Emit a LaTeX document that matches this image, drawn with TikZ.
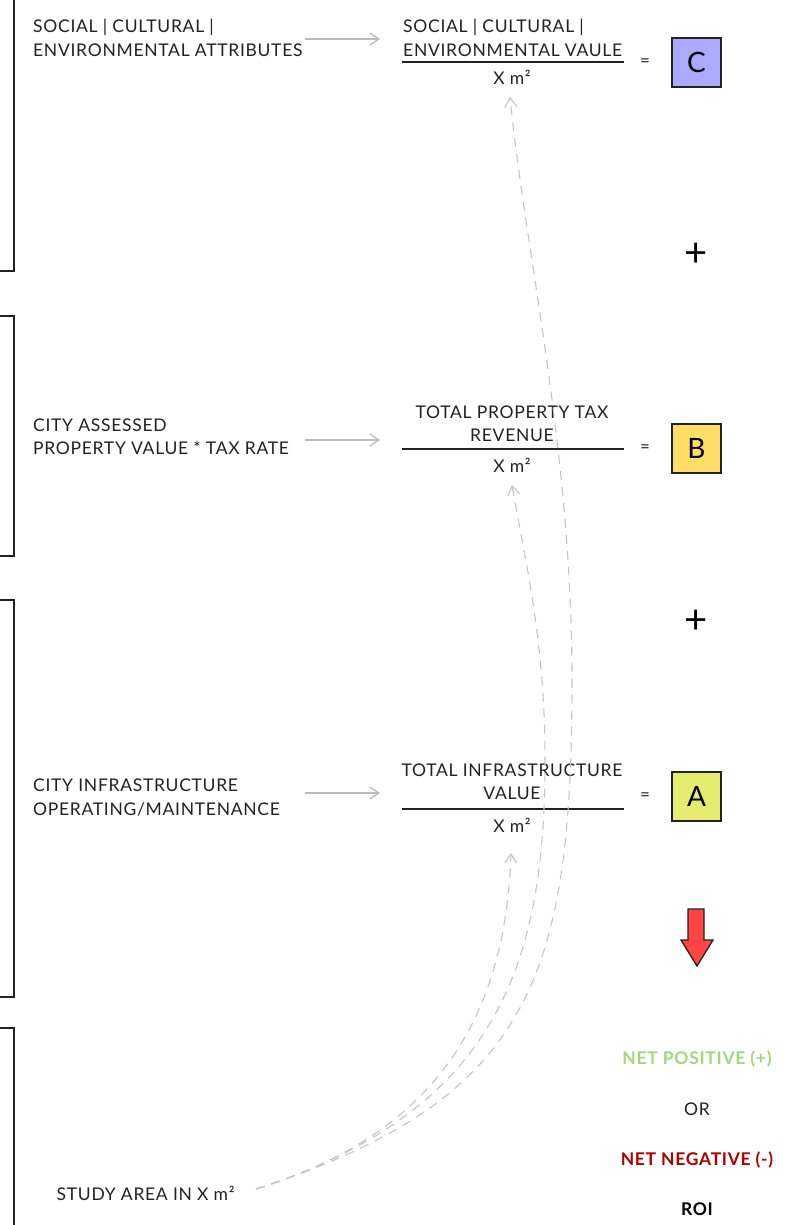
\documentclass[tikz,border=0pt]{standalone}
\usepackage{fontspec}
\setmainfont{Lato}[LetterSpace=4]
\usetikzlibrary{arrows.meta}
\definecolor{ink}{HTML}{222222}
\definecolor{flowgray}{HTML}{BBBBBB}
\definecolor{dashgray}{HTML}{C4C4C4}
\definecolor{boxC}{HTML}{AAAAFF}
\definecolor{boxB}{HTML}{FFDD66}
\definecolor{boxA}{HTML}{E6EC70}
\definecolor{redarrow}{HTML}{FF4444}
\definecolor{posgreen}{HTML}{A6D67A}
\definecolor{negred}{HTML}{B00000}
\begin{document}
\begin{tikzpicture}[x=1pt,y=-1pt,
  txt/.style={font=\fontsize{17.5}{23.4}\selectfont, inner sep=0pt, text=ink},
  boldtxt/.style={font=\fontsize{17.5}{23.4}\selectfont\bfseries, inner sep=0pt},
  bracketline/.style={line width=2pt, draw=ink},
  barline/.style={line width=2pt, draw=ink},
  chev/.style={-{Straight Barb[length=9pt,width=12pt]}},
  flow/.style={chev, draw=flowgray, line width=1.3pt},
  dashflow/.style={chev, draw=dashgray, line width=1.1pt, dash pattern=on 9pt off 7pt},
  letterbox/.style={draw=ink, line width=1.8pt, minimum size=49pt, inner sep=0pt,
    font=\fontsize{28}{30}\selectfont, text=black},
  eqsign/.style={font=\fontsize{17}{18}\selectfont, inner sep=0pt, text=ink},
  plussign/.style={font=\fontsize{40}{42}\selectfont, inner sep=0pt, text=black}
]
\useasboundingbox (0,0) rectangle (784,1225);

% brackets
\draw[bracketline] (14,-5) -- (14,271) -- (-2,271);
\draw[bracketline] (-2,316) -- (14,316) -- (14,556) -- (-2,556);
\draw[bracketline] (-2,600) -- (14,600) -- (14,997) -- (-2,997);
\draw[bracketline] (-2,1028) -- (14,1028) -- (14,1232);

% left texts
\node[txt, anchor=west, align=left] (lt1) at (33,38) {SOCIAL | CULTURAL |\\ENVIRONMENTAL ATTRIBUTES};
\node[txt, anchor=west, align=left] (lt2) at (33,436.5) {CITY ASSESSED\\PROPERTY VALUE * TAX RATE};
\node[txt, anchor=west, align=left] (lt3) at (33,797.5) {CITY INFRASTRUCTURE\\OPERATING/MAINTENANCE};
\node[txt, anchor=west] (study) at (56.5,1193) {STUDY AREA IN X m²};

% horizontal arrows
\coordinate (a1s) at (305,39);  \coordinate (a1e) at (380,39);
\coordinate (a2s) at (305,440); \coordinate (a2e) at (380,440);
\coordinate (a3s) at (305,793); \coordinate (a3e) at (380,793);
\draw[flow] (a1s) -- (a1e);
\draw[flow] (a2s) -- (a2e);
\draw[flow] (a3s) -- (a3e);

% fractions
\node[txt, anchor=west, align=left] (numC) at (403,38) {SOCIAL | CULTURAL |\\ENVIRONMENTAL VAULE};
\draw[barline] (402,62.5) -- (624,62.5);
\node[txt] (denC) at (512,77.5) {X m²};

\node[txt, align=center] (numB) at (512,424) {TOTAL PROPERTY TAX\\REVENUE};
\draw[barline] (402,449.3) -- (624,449.3);
\node[txt] (denB) at (512,465) {X m²};

\node[txt, align=center] (numA) at (512,782) {TOTAL INFRASTRUCTURE\\VALUE};
\draw[barline] (402,809.3) -- (624,809.3);
\node[txt] (denA) at (512,825) {X m²};

% equals and boxes
\node[eqsign] (eqC) at (645,63) {=};
\node[eqsign] (eqB) at (645,449) {=};
\node[eqsign] (eqA) at (645,797) {=};
\node[letterbox, fill=boxC] (bC) at (696.5,62.5) {C};
\node[letterbox, fill=boxB] (bB) at (696.5,448.5) {B};
\node[letterbox, fill=boxA] (bA) at (696.5,796.5) {A};

\node[plussign] (p1) at (696,255) {+};
\node[plussign] (p2) at (696,622) {+};

% red arrow
\draw[draw=ink, line width=1.3pt, fill=redarrow, line join=miter]
  (688,909) -- (704,909) -- (704,940) -- (713,940) -- (697,966) -- (681,940) -- (688,940) -- cycle;

% results
\node[boldtxt, text=posgreen] (pos) at (697,1059) {NET POSITIVE (+)};
\node[txt] (or) at (697,1109) {OR};
\node[boldtxt, text=negred] (neg) at (697,1160) {NET NEGATIVE (-)};
\node[boldtxt, text=black] (roi) at (697,1209.5) {ROI};

% dashed curves
\coordinate (src) at (256,1189);
\coordinate (tA) at (511,853);
\coordinate (tB) at (512,485);
\coordinate (tC) at (510,97);
\coordinate (mB) at (545,760);
\coordinate (mC) at (572,680);
\draw[dashflow] (src) .. controls (450,1130) and (506,1000) .. (tA);
\draw[dashflow] (src) .. controls (500,1110) and (545,960) .. (mB) .. controls (545,640) and (525,560) .. (tB);
\draw[dashflow] (src) .. controls (530,1100) and (572,980) .. (mC) .. controls (572,450) and (525,250) .. (tC);
\end{tikzpicture}
\end{document}
